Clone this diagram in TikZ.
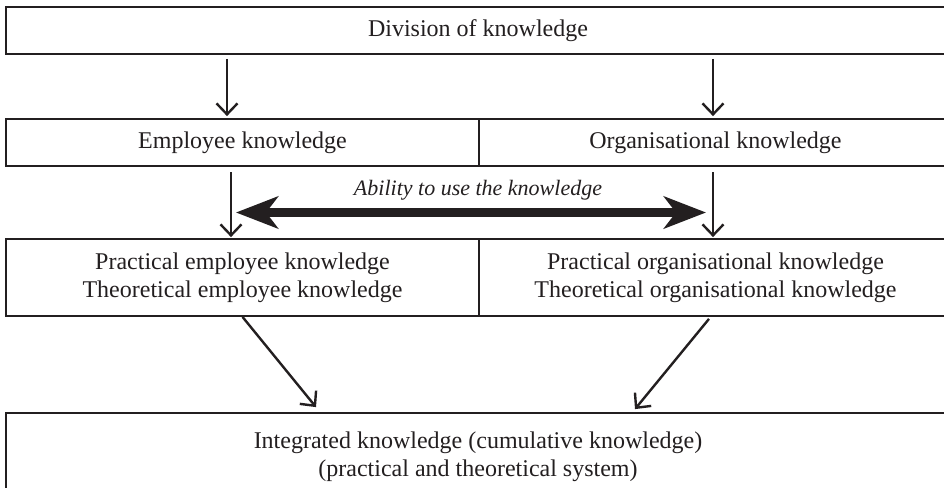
\documentclass[tikz,border=0pt]{standalone}
\usepackage{fontspec}
\setmainfont{Liberation Serif}
\usetikzlibrary{arrows.meta}
\definecolor{ink}{RGB}{35,31,32}
\begin{document}
\begin{tikzpicture}[x=0.5pt,y=-0.5pt,
  box/.style={draw=ink, line width=0.9pt, rectangle, inner sep=0pt, align=center,
    text=ink, font=\fontsize{12}{13.8}\selectfont},
  arr/.style={draw=ink, line width=1.2pt, -{Straight Barb[length=5.5pt,width=10.5pt]}},
  dbl/.style={draw=ink, line width=4.5pt, {Stealth[length=21pt,width=16pt,inset=6pt]}-{Stealth[length=21pt,width=16pt,inset=6pt]}},
  lbl/.style={text=ink, inner sep=0pt, font=\fontsize{11}{13}\selectfont\itshape}]
\useasboundingbox (0,0) rectangle (944,488);
\clip (0,0) rectangle (944,488);
\fill[white] (0,0) rectangle (944,488);
% boxes
\node[box, minimum width=472pt, minimum height=23.5pt] (top) at (478,30.5) {Division of knowledge};
\node[box, minimum width=236.5pt, minimum height=23.5pt] (l2) at (242.5,142.5) {Employee knowledge};
\node[box, minimum width=236.5pt, minimum height=23.5pt] (r2) at (715.5,142.5) {Organisational knowledge};
\node[box, minimum width=236.5pt, minimum height=38.5pt] (l3) at (242.5,277.5) {Practical employee knowledge\\Theoretical employee knowledge};
\node[box, minimum width=236.5pt, minimum height=38.5pt] (r3) at (715.5,277.5) {Practical organisational knowledge\\Theoretical organisational knowledge};
\node[box, minimum width=472pt, minimum height=43.5pt] (bot) at (478,456.5) {Integrated knowledge (cumulative knowledge)\\(practical and theoretical system)};
% vertical arrows
\draw[arr] ([xshift=-7.75pt,yshift=-2pt]top.south -| l2.north) -- ([xshift=-7.75pt,yshift=1pt]l2.north);
\draw[arr] ([xshift=-1.25pt,yshift=-2pt]top.south -| r2.north) -- ([xshift=-1.25pt,yshift=1pt]r2.north);
\draw[arr] ([xshift=-5.75pt,yshift=-2.75pt]l2.south) -- ([xshift=-5.75pt,yshift=0.5pt]l3.north);
\draw[arr] ([xshift=-1.25pt,yshift=-2.75pt]r2.south) -- ([xshift=-1.25pt,yshift=0.5pt]r3.north);
% double arrow
\coordinate (dl) at (236,212.5);
\coordinate (dr) at (706,212.5);
\draw[dbl] (dl) -- (dr);
\node[lbl] (ab) at (478,190) {Ability to use the knowledge};
% diagonal arrows
\draw[arr] (l3.south) -- ([xshift=-81pt,yshift=2.5pt]bot.north);
\draw[arr] ([xshift=-3.25pt,yshift=-1pt]r3.south) -- ([xshift=78.5pt,yshift=1.5pt]bot.north);
\end{tikzpicture}
\end{document}
